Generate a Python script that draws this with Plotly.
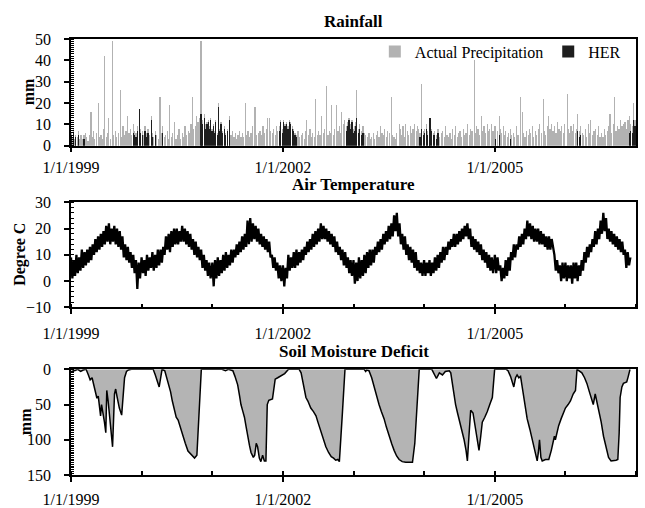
import pandas as pd
import plotly.graph_objects as go

FONT = "Liberation Serif, Times New Roman, Times, serif"
PRECIP_COLOR = "#b2b2b2"
HER_COLOR = "#1e1e1e"
FILL_COLOR = "#b4b4b4"

# ---------------- Rainfall (mm/day) ----------------
precip_dates = [
    "1999-01-03", "1999-01-08", "1999-01-14", "1999-01-19", "1999-01-26",
    "1999-02-02", "1999-02-09", "1999-02-15", "1999-02-22",
    "1999-03-01", "1999-03-09", "1999-03-17", "1999-03-24", "1999-03-30",
    "1999-04-06", "1999-04-14", "1999-04-21", "1999-04-28",
    "1999-05-04", "1999-05-11", "1999-05-22", "1999-05-29",
    "1999-06-05", "1999-06-12", "1999-06-18", "1999-06-25",
    "1999-07-02", "1999-07-09", "1999-07-15", "1999-07-24",
    "1999-08-03", "1999-08-10", "1999-08-18", "1999-08-26",
    "1999-09-04", "1999-09-13", "1999-09-19", "1999-09-27",
    "1999-10-05", "1999-10-12", "1999-10-20", "1999-10-28",
    "1999-11-04", "1999-11-11", "1999-11-19", "1999-11-26",
    "1999-12-03", "1999-12-10", "1999-12-20", "1999-12-27",
    "2000-01-04", "2000-01-12", "2000-01-19", "2000-01-27",
    "2000-02-03", "2000-02-11", "2000-02-20", "2000-02-26",
    "2000-03-04", "2000-03-12", "2000-03-20", "2000-03-28",
    "2000-04-05", "2000-04-12", "2000-04-20", "2000-04-27",
    "2000-05-04", "2000-05-12", "2000-05-19", "2000-05-26",
    "2000-06-03", "2000-06-10", "2000-06-20", "2000-06-27",
    "2000-07-04", "2000-07-13", "2000-07-21", "2000-07-29",
    "2000-08-05", "2000-08-13", "2000-08-22", "2000-08-30",
    "2000-09-06", "2000-09-13", "2000-09-20", "2000-09-27",
    "2000-10-04", "2000-10-12", "2000-10-19", "2000-10-27",
    "2000-11-03", "2000-11-06", "2000-11-12", "2000-11-20", "2000-11-27",
    "2000-12-04", "2000-12-10", "2000-12-17", "2000-12-23", "2000-12-30",
    "2001-01-05", "2001-01-12", "2001-01-19", "2001-01-27",
    "2001-02-03", "2001-02-09", "2001-02-15", "2001-02-24",
    "2001-03-04", "2001-03-12", "2001-03-20", "2001-03-30",
    "2001-04-07", "2001-04-15", "2001-04-23", "2001-04-29",
    "2001-05-06", "2001-05-14", "2001-05-22", "2001-05-29",
    "2001-06-05", "2001-06-13", "2001-06-20", "2001-06-27",
    "2001-07-04", "2001-07-12", "2001-07-20", "2001-07-28",
    "2001-08-05", "2001-08-10", "2001-08-18", "2001-08-27",
    "2001-09-04", "2001-09-12", "2001-09-20", "2001-09-28",
    "2001-10-06", "2001-10-15", "2001-10-25", "2001-10-30",
    "2001-11-06", "2001-11-14", "2001-11-22", "2001-11-29",
    "2001-12-06", "2001-12-14", "2001-12-20", "2001-12-28",
    "2002-01-05", "2002-01-12", "2002-01-19", "2002-01-27",
    "2002-02-03", "2002-02-10", "2002-02-18", "2002-02-25",
    "2002-03-04", "2002-03-12", "2002-03-20", "2002-03-28",
    "2002-04-06", "2002-04-14", "2002-04-22", "2002-04-29",
    "2002-05-05", "2002-05-13", "2002-05-21", "2002-05-28",
    "2002-06-04", "2002-06-12", "2002-06-20", "2002-06-27",
    "2002-07-04", "2002-07-12", "2002-07-20", "2002-07-28",
    "2002-08-05", "2002-08-15", "2002-08-22", "2002-08-29",
    "2002-09-03", "2002-09-10", "2002-09-18", "2002-09-26",
    "2002-10-05", "2002-10-13", "2002-10-21", "2002-10-28",
    "2002-11-01", "2002-11-09", "2002-11-17", "2002-11-24",
    "2002-12-02", "2002-12-09", "2002-12-17", "2002-12-24", "2002-12-30",
    "2003-01-05", "2003-01-12", "2003-01-18", "2003-01-25",
    "2003-02-03", "2003-02-11", "2003-02-19", "2003-02-26",
    "2003-03-05", "2003-03-14", "2003-03-22", "2003-03-29",
    "2003-04-05", "2003-04-13", "2003-04-21", "2003-04-28",
    "2003-05-05", "2003-05-13", "2003-05-21", "2003-05-28",
    "2003-06-04", "2003-06-12", "2003-06-20", "2003-06-27",
    "2003-07-05", "2003-07-15", "2003-07-22", "2003-07-29",
    "2003-08-05", "2003-08-13", "2003-08-25", "2003-08-30",
    "2003-09-06", "2003-09-14", "2003-09-22", "2003-09-29",
    "2003-10-06", "2003-10-14", "2003-10-22", "2003-10-30",
    "2003-11-05", "2003-11-13", "2003-11-21", "2003-11-28",
    "2003-12-04", "2003-12-11", "2003-12-20", "2003-12-27",
    "2004-01-04", "2004-01-12", "2004-01-20", "2004-01-28",
    "2004-02-01", "2004-02-09", "2004-02-17", "2004-02-25",
    "2004-03-05", "2004-03-13", "2004-03-21", "2004-03-29",
    "2004-04-06", "2004-04-14", "2004-04-22", "2004-04-29",
    "2004-05-06", "2004-05-14", "2004-05-22", "2004-05-29",
    "2004-06-05", "2004-06-13", "2004-06-21", "2004-06-28",
    "2004-07-05", "2004-07-13", "2004-07-21", "2004-07-29",
    "2004-08-05", "2004-08-13", "2004-08-21", "2004-08-29",
    "2004-09-05", "2004-09-16", "2004-09-23", "2004-09-29",
    "2004-10-06", "2004-10-14", "2004-10-25", "2004-10-30",
    "2004-11-06", "2004-11-14", "2004-11-22", "2004-11-29",
    "2004-12-06", "2004-12-14", "2004-12-22", "2004-12-29",
    "2005-01-05", "2005-01-13", "2005-01-25", "2005-01-30",
    "2005-02-06", "2005-02-14", "2005-02-22", "2005-02-27",
    "2005-03-06", "2005-03-14", "2005-03-22", "2005-03-29",
    "2005-04-06", "2005-04-14", "2005-04-22", "2005-04-29",
    "2005-05-04", "2005-05-12", "2005-05-25", "2005-05-30",
    "2005-06-06", "2005-06-14", "2005-06-22", "2005-06-29",
    "2005-07-06", "2005-07-14", "2005-07-22", "2005-07-29",
    "2005-08-06", "2005-08-14", "2005-08-22", "2005-08-29",
    "2005-09-08", "2005-09-15", "2005-09-22", "2005-09-29",
    "2005-10-05", "2005-10-13", "2005-10-21", "2005-10-29",
    "2005-11-05", "2005-11-13", "2005-11-21", "2005-11-29",
    "2005-12-05", "2005-12-13", "2005-12-21", "2005-12-29",
    "2006-01-10", "2006-01-17", "2006-01-24", "2006-01-30",
    "2006-02-05", "2006-02-13", "2006-02-21", "2006-02-27",
    "2006-03-05", "2006-03-13", "2006-03-21", "2006-03-29",
    "2006-04-06", "2006-04-14", "2006-04-22", "2006-04-29",
    "2006-05-04", "2006-05-10", "2006-05-22", "2006-05-29",
    "2006-06-06", "2006-06-14", "2006-06-22", "2006-06-29",
    "2006-07-06", "2006-07-14", "2006-07-22", "2006-07-29",
    "2006-08-06", "2006-08-14", "2006-08-20", "2006-08-28",
    "2006-09-05", "2006-09-10", "2006-09-20", "2006-09-28",
    "2006-10-05", "2006-10-13", "2006-10-21", "2006-10-29",
    "2006-11-05", "2006-11-13", "2006-11-21", "2006-11-29",
    "2006-12-05", "2006-12-13", "2006-12-20", "2006-12-27",
]
precip_mm = [
    6, 4, 8, 3, 5,
    4, 7, 3, 5,
    3, 5, 6, 4, 2,
    5, 16, 4, 7,
    3, 6, 20, 4,
    5, 3, 8, 42,
    4, 6, 13, 3,
    49, 5, 7, 4,
    6, 26, 4, 9,
    5, 7, 14, 6,
    8, 5, 10, 7,
    6, 9, 17, 8,
    7, 5, 9, 6,
    8, 5, 14, 6,
    4, 7, 5, 3,
    23, 6, 9, 4,
    5, 7, 3, 19,
    4, 6, 11, 3,
    5, 8, 3, 6,
    4, 9, 5, 7,
    6, 10, 23, 8,
    9, 14, 11, 13,
    49, 28, 12, 15, 10,
    11, 12, 9, 13, 8,
    10, 7, 12, 6,
    20, 8, 11, 7,
    9, 6, 8, 14,
    5, 7, 4, 6,
    3, 5, 7, 4,
    6, 4, 20, 5,
    7, 4, 6, 9,
    18, 18, 5, 6,
    7, 5, 9, 6,
    8, 13, 13, 7,
    6, 8, 5, 9,
    7, 9, 12, 8,
    12, 10, 11, 9,
    12, 11, 9, 8,
    6, 5, 7, 4,
    5, 6, 3, 7,
    12, 5, 8, 4,
    6, 4, 22, 5,
    7, 5, 14, 6,
    8, 28, 5, 7,
    6, 19, 5, 8,
    19, 7, 9, 6,
    16, 10, 12, 9,
    11, 13, 10, 12, 8,
    9, 11, 26, 8,
    10, 7, 9, 6,
    5, 4, 6, 3,
    4, 6, 3, 5,
    7, 4, 9, 6,
    5, 8, 4, 7,
    6, 23, 5, 4,
    3, 6, 10, 8,
    5, 9, 4, 10,
    7, 5, 9, 6,
    8, 10, 7, 9,
    8, 6, 29, 7,
    8, 10, 7, 9,
    13, 8, 6, 7,
    5, 8, 4, 6,
    7, 4, 9, 5,
    4, 6, 3, 8,
    5, 9, 4, 6,
    7, 4, 8, 5,
    6, 10, 5, 8,
    7, 40, 6, 9,
    8, 5, 14, 7,
    9, 6, 10, 7,
    8, 10, 7, 9,
    9, 7, 14, 8,
    6, 9, 5, 7,
    4, 6, 8, 5,
    6, 4, 9, 5,
    5, 23, 16, 6,
    4, 7, 5, 8,
    6, 9, 4, 7,
    5, 8, 10, 6,
    22, 7, 5, 9,
    14, 8, 10, 7,
    9, 6, 11, 8,
    7, 9, 6, 10,
    24, 8, 6, 9,
    7, 10, 6, 8,
    15, 7, 9, 6,
    5, 8, 4, 10,
    6, 12, 5, 7,
    8, 5, 9, 4,
    6, 4, 8, 5,
    7, 9, 15, 6,
    10, 23, 7, 9,
    8, 12, 9, 10,
    11, 8, 12, 14,
    10, 9, 20, 12,
]

# Hydrologically effective rainfall (mm/day)
her_dates = [
    "1999-01-03", "1999-01-14", "1999-01-26", "1999-02-09", "1999-03-09",
    "1999-11-19", "1999-11-26", "1999-12-03", "1999-12-10", "1999-12-20", "1999-12-27",
    "2000-01-04", "2000-01-19", "2000-01-27", "2000-02-03", "2000-02-20", "2000-02-26",
    "2000-03-12", "2000-04-20",
    "2000-11-03", "2000-11-06", "2000-11-12", "2000-11-20", "2000-11-27",
    "2000-12-04", "2000-12-10", "2000-12-17", "2000-12-23", "2000-12-30",
    "2001-01-05", "2001-01-12", "2001-01-19", "2001-01-27",
    "2001-02-03", "2001-02-09", "2001-02-15", "2001-02-24",
    "2001-03-04", "2001-03-12", "2001-03-20", "2001-03-30",
    "2001-12-14", "2001-12-20", "2001-12-28",
    "2002-01-05", "2002-01-12", "2002-01-19", "2002-01-27",
    "2002-02-03", "2002-02-10", "2002-02-18", "2002-02-25",
    "2002-03-04", "2002-03-12",
    "2002-11-24", "2002-12-02", "2002-12-09", "2002-12-17", "2002-12-24", "2002-12-30",
    "2003-01-05", "2003-01-12", "2003-01-18", "2003-01-25",
    "2003-02-03", "2003-02-11", "2003-02-19",
    "2003-12-11", "2003-12-20", "2003-12-27",
    "2004-01-04", "2004-01-12", "2004-01-20", "2004-01-28",
    "2004-02-01", "2004-02-09", "2004-02-17", "2004-02-25",
    "2004-03-05", "2004-03-13",
    "2005-01-05", "2005-01-25", "2005-03-22",
    "2006-03-05", "2006-03-13", "2006-03-21",
    "2006-11-29", "2006-12-05", "2006-12-13", "2006-12-20", "2006-12-27",
]
her_mm = [
    5, 6, 4, 5, 3,
    6, 5, 4, 7, 17, 6,
    5, 7, 4, 6, 12, 4,
    5, 6,
    15, 12, 10, 13, 8,
    10, 11, 8, 12, 7,
    9, 6, 11, 5,
    18, 7, 10, 6,
    8, 5, 7, 12,
    7, 11, 6,
    11, 9, 10, 8,
    11, 10, 8, 7,
    5, 4,
    7, 9, 12, 8, 11, 6,
    7, 9, 13, 6,
    8, 5, 6,
    4, 8, 5,
    6, 8, 5, 7,
    13, 7, 5, 5,
    3, 6,
    3, 5, 3,
    7, 4, 5,
    6, 7, 6, 12, 9,
]

# ---------------- Air temperature (degree C, weekly from 1 Jan) ----------------
temp_years = [1999, 2000, 2001, 2002, 2003, 2004, 2005, 2006]
temp_1999 = [9, 1, 8, 2, 10, 3, 9, 4, 12, 5, 11, 6, 12, 7, 13, 8, 14, 10, 16, 11, 17, 12,
             18, 13, 19, 14, 21, 15, 22, 14, 20, 15, 21, 14, 20, 13, 19, 12, 17, 9, 14, 8,
             13, 7, 11, 5, 10, 3, 8, -3, 7, 1]
temp_2000 = [9, 3, 8, 2, 10, 4, 9, 5, 11, 4, 10, 5, 12, 6, 12, 7, 13, 10, 17, 12, 18, 11,
             19, 13, 20, 14, 20, 14, 19, 15, 21, 15, 20, 14, 19, 13, 18, 12, 16, 10, 15, 9,
             13, 8, 12, 5, 10, 4, 8, 2, 7, 1]
temp_2001 = [7, -2, 8, 1, 9, 2, 8, 3, 10, 4, 11, 5, 10, 6, 12, 7, 12, 9, 14, 10, 15, 11,
             17, 12, 18, 13, 23, 14, 24, 15, 22, 16, 21, 15, 20, 14, 18, 13, 17, 12, 16, 11,
             15, 9, 10, 5, 9, 4, 7, 1, 6, 0]
temp_2002 = [6, -2, 5, 1, 10, 4, 9, 5, 11, 5, 12, 6, 11, 7, 12, 8, 13, 10, 15, 11, 16, 12,
             18, 13, 19, 14, 20, 15, 22, 16, 21, 16, 20, 15, 19, 14, 18, 13, 17, 11, 15, 10,
             13, 8, 12, 6, 11, 5, 9, 3, 8, 2]
temp_2003 = [8, -1, 7, 0, 9, 1, 8, 2, 10, 3, 11, 5, 12, 6, 12, 7, 13, 10, 15, 11, 16, 12,
             18, 14, 19, 15, 21, 16, 22, 17, 25, 19, 26, 17, 22, 14, 18, 12, 17, 10, 14, 8,
             13, 7, 12, 5, 11, 4, 8, 3, 7, 2]
temp_2004 = [8, 2, 7, 3, 8, 2, 7, 3, 9, 4, 10, 5, 11, 7, 13, 8, 13, 10, 15, 12, 16, 13,
             18, 13, 18, 14, 19, 15, 20, 16, 21, 17, 22, 16, 20, 13, 17, 12, 16, 11, 15, 10,
             14, 8, 12, 7, 11, 5, 10, 4, 9, 3]
temp_2005 = [10, 3, 9, 4, 6, 0, 5, 1, 8, 2, 9, 4, 11, 8, 14, 9, 14, 12, 17, 13, 18, 14,
             20, 16, 23, 17, 22, 16, 21, 15, 20, 15, 20, 14, 19, 14, 18, 13, 17, 12, 17, 12,
             16, 13, 10, 4, 8, 3, 6, 0, 7, 1]
temp_2006 = [7, 0, 6, 1, 6, -1, 7, 1, 7, 0, 6, 2, 8, 4, 11, 7, 13, 9, 14, 11, 16, 13,
             19, 14, 20, 16, 23, 18, 26, 19, 24, 16, 20, 15, 19, 14, 18, 13, 17, 12, 16, 11,
             15, 10, 12, 5, 11, 6, 9]
temp_by_year = [temp_1999, temp_2000, temp_2001, temp_2002, temp_2003, temp_2004, temp_2005, temp_2006]

# ---------------- Soil moisture deficit (mm) ----------------
smd_dates = [
    "1999-01-01", "1999-01-20", "1999-02-05", "1999-02-20", "1999-03-05", "1999-03-20",
    "1999-04-01", "1999-04-10", "1999-04-20", "1999-04-28", "1999-05-08", "1999-05-15",
    "1999-05-22", "1999-06-03", "1999-06-08", "1999-06-15", "1999-06-23", "1999-06-30",
    "1999-07-05", "1999-07-12", "1999-07-22", "1999-08-04", "1999-08-14", "1999-08-20",
    "1999-08-28", "1999-09-08", "1999-09-20", "1999-09-28", "1999-10-05", "1999-10-15",
    "1999-10-25", "1999-11-10",
    "2000-03-01", "2000-03-12", "2000-03-25", "2000-04-01", "2000-04-10", "2000-04-16",
    "2000-04-30", "2000-05-10", "2000-05-20", "2000-05-30", "2000-06-08", "2000-06-21",
    "2000-06-28", "2000-07-08", "2000-07-18", "2000-07-25", "2000-08-05", "2000-08-14",
    "2000-08-28", "2000-09-10", "2000-09-20", "2000-10-01", "2000-10-13", "2000-10-25",
    "2000-11-05",
    "2001-02-20", "2001-03-10", "2001-03-25", "2001-04-17", "2001-04-28", "2001-05-12",
    "2001-05-22", "2001-05-29", "2001-06-08", "2001-06-16", "2001-06-25", "2001-07-02",
    "2001-07-12", "2001-07-20", "2001-08-01", "2001-08-08", "2001-08-16", "2001-08-23",
    "2001-09-01", "2001-09-09", "2001-09-18", "2001-09-27", "2001-10-05", "2001-10-12",
    "2001-10-20", "2001-11-08", "2001-11-15", "2001-11-22", "2001-12-05", "2001-12-21",
    "2002-01-10", "2002-01-30",
    "2002-03-26", "2002-04-05", "2002-04-12", "2002-04-22", "2002-04-30", "2002-05-10",
    "2002-05-25", "2002-06-08", "2002-06-21", "2002-07-01", "2002-07-16", "2002-07-28",
    "2002-08-11", "2002-08-25", "2002-09-08", "2002-09-20", "2002-10-01", "2002-10-12",
    "2002-10-20", "2002-11-05", "2002-11-18",
    "2003-02-25", "2003-03-05", "2003-03-10", "2003-03-22", "2003-04-05", "2003-04-17",
    "2003-04-30", "2003-05-13", "2003-05-25", "2003-06-08", "2003-06-20", "2003-07-04",
    "2003-07-18", "2003-07-30", "2003-08-12", "2003-08-25", "2003-09-10", "2003-09-28",
    "2003-10-15", "2003-11-02", "2003-11-14", "2003-11-25", "2003-12-07",
    "2004-02-10", "2004-02-25", "2004-03-05", "2004-03-20", "2004-04-05", "2004-04-20",
    "2004-05-10", "2004-05-18", "2004-06-04", "2004-06-12", "2004-06-22", "2004-06-30",
    "2004-07-12", "2004-07-26", "2004-08-05", "2004-08-12", "2004-08-20", "2004-08-29",
    "2004-09-10", "2004-09-25", "2004-10-11", "2004-10-20", "2004-10-28", "2004-11-10",
    "2004-11-23", "2004-12-08", "2004-12-19", "2004-12-31",
    "2005-03-01", "2005-03-10", "2005-03-23", "2005-04-09", "2005-04-18", "2005-04-26",
    "2005-05-05", "2005-05-14", "2005-05-31", "2005-06-17", "2005-07-01", "2005-07-13",
    "2005-07-28", "2005-08-08", "2005-08-14", "2005-08-20", "2005-08-27", "2005-09-03",
    "2005-09-20", "2005-10-07", "2005-10-20", "2005-11-05", "2005-11-10", "2005-11-27",
    "2005-12-10", "2005-12-20", "2006-01-01", "2006-01-15", "2006-01-27", "2006-02-10",
    "2006-02-22", "2006-03-02",
    "2006-03-27", "2006-04-10", "2006-04-22", "2006-05-05", "2006-05-18", "2006-05-25",
    "2006-06-04", "2006-06-12", "2006-06-21", "2006-07-05", "2006-07-17", "2006-07-30",
    "2006-08-12", "2006-08-25", "2006-09-07", "2006-09-20", "2006-09-29", "2006-10-06",
    "2006-10-11", "2006-10-20", "2006-10-28", "2006-11-14", "2006-11-22", "2006-12-01",
]
smd_mm = [
    0, 2, 0, 3, 1, 0,
    8, 15, 12, 20, 30, 41,
    38, 66, 50, 60, 75, 90,
    30, 45, 70, 110, 35, 28,
    40, 55, 65, 40, 12, 3,
    1, 0,
    0, 8, 20, 25, 10, 0,
    2, 12, 20, 32, 45, 60,
    68, 72, 82, 88, 98, 105,
    116, 120, 124, 126, 122, 60,
    0,
    0, 2, 0, 2, 10, 22,
    38, 50, 60, 68, 82, 95,
    108, 118, 125, 122, 105, 110,
    126, 131, 122, 130, 130, 50,
    44, 42, 25, 14, 12, 9,
    6, 0,
    0, 5, 15, 30, 40, 45,
    55, 60, 66, 75, 88, 100,
    110, 118, 124, 126, 129, 128,
    131, 60, 0,
    0, 3, 1, 2, 12, 25,
    38, 50, 60, 70, 82, 95,
    106, 115, 123, 128, 131, 132,
    132, 132, 105, 50, 0,
    0, 8, 13, 5, 8, 3,
    2, 5, 40, 50, 62, 70,
    85, 100, 115, 130, 95, 58,
    62, 90, 115, 95, 75, 68,
    60, 48, 40, 0,
    0, 2, 10, 25, 12, 8,
    12, 10, 40, 70, 85, 100,
    118, 130, 118, 100, 125, 130,
    128, 128, 115, 95, 100, 80,
    70, 62, 55, 50, 45, 35,
    30, 0,
    5, 12, 20, 32, 45, 50,
    35, 45, 55, 75, 95, 112,
    125, 130, 130, 129, 128, 90,
    40, 25, 20, 18, 10, 0,
]

x_start, x_end = "1999-01-01", "2007-01-01"

# weekly temperature dates
temp_dates, temp_vals = [], []
for yr, vals in zip(temp_years, temp_by_year):
    start = pd.Timestamp(f"{yr}-01-01")
    for i, v in enumerate(vals):
        temp_dates.append(start + pd.Timedelta(days=7 * i))
        temp_vals.append(v)

DAY_MS = 86400000

fig = go.Figure()
fig.add_trace(go.Bar(x=precip_dates, y=precip_mm, name="Actual Precipitation",
                     marker=dict(color=PRECIP_COLOR, line=dict(width=0)),
                     width=DAY_MS, xaxis="x", yaxis="y"))
fig.add_trace(go.Bar(x=her_dates, y=her_mm, name="HER",
                     marker=dict(color=HER_COLOR, line=dict(width=0)),
                     width=DAY_MS, xaxis="x", yaxis="y"))
fig.add_trace(go.Scatter(x=temp_dates, y=temp_vals, mode="lines",
                         line=dict(color="black", width=2.3),
                         xaxis="x2", yaxis="y2", showlegend=False))
fig.add_trace(go.Scatter(x=smd_dates, y=smd_mm, mode="lines", fill="tozeroy",
                         fillcolor=FILL_COLOR, line=dict(color="black", width=1.5),
                         xaxis="x3", yaxis="y3", showlegend=False))

tickfont = dict(family=FONT, size=16, color="black")


def xaxis(anchor, standoff, minor):
    d = dict(type="date", range=[x_start, x_end], anchor=anchor, domain=[0, 1],
             tick0="1999-01-01", dtick="M36", tickformat="%-m/%-d/%Y",
             showline=True, mirror=True, linecolor="black", linewidth=1.5,
             ticks="outside", ticklen=5, tickwidth=1.5, tickcolor="black",
             showgrid=False, zeroline=False, tickfont=tickfont, automargin=False,
             ticklabelstandoff=standoff)
    if minor:
        d["minor"] = dict(dtick="M12", tick0="1999-01-01", ticks="inside",
                          ticklen=4, tickwidth=1.5, tickcolor="black", showgrid=False)
    return d


def yaxis(anchor, domain, rng, dtick, mdtick, reverse=False):
    return dict(anchor=anchor, domain=domain,
                range=rng[::-1] if reverse else rng,
                tick0=0, dtick=dtick,
                showline=True, mirror=True, linecolor="black", linewidth=1.5,
                ticks="outside", ticklen=5, tickwidth=1.5, tickcolor="black",
                showgrid=False, zeroline=False, tickfont=tickfont, automargin=False,
                ticklabelstandoff=10,
                minor=dict(dtick=mdtick, tick0=0, ticks="inside", ticklen=3,
                           tickwidth=1, tickcolor="black", showgrid=False))


fig.update_layout(
    template="none",
    width=645, height=508,
    margin=dict(l=71, r=9, t=39, b=33, autoexpand=False),
    paper_bgcolor="white", plot_bgcolor="white",
    barmode="overlay", bargap=0,
    font=dict(family=FONT, size=16, color="black"),
    xaxis=xaxis("y", 1, False),
    yaxis=yaxis("x", [0.7553, 1.0], [0, 50], 10, 1),
    xaxis2=xaxis("y2", 6, True),
    yaxis2=yaxis("x2", [0.3846, 0.6255], [-10, 30], 10, 2),
    xaxis3=xaxis("y3", 4, True),
    yaxis3=yaxis("x3", [0.0, 0.2424], [0, 150], 50, 2.5, reverse=True),
    legend=dict(orientation="h", x=0.982, xanchor="right", y=1.01, yanchor="top",
                bgcolor="rgba(0,0,0,0)", font=dict(family=FONT, size=16, color="black"),
                itemwidth=30, traceorder="normal"),
    showlegend=True,
)

titles = [("Rainfall", 1.0), ("Air Temperature", 0.6255), ("Soil Moisture Deficit", 0.2424)]
for text, ytop in titles:
    fig.add_annotation(text=f"<b>{text}</b>", xref="paper", yref="paper", x=0.5, y=ytop,
                       xanchor="center", yanchor="middle", yshift=18, showarrow=False,
                       font=dict(family=FONT, size=17, color="black"))

ytitles = [("mm", 0.8776, -43), ("Degree C", 0.5050, -51), ("mm", 0.1212, -46)]
for text, yc, shift in ytitles:
    fig.add_annotation(text=f"<b>{text}</b>", xref="paper", yref="paper", x=0, y=yc,
                       xanchor="center", yanchor="middle", xshift=shift, textangle=-90,
                       showarrow=False, font=dict(family=FONT, size=16, color="black"))

# the page's default body margin would offset the 645x508 figure; remove it
fig.write_html("out.html", config={"displayModeBar": False},
               post_script="document.body.style.margin='0';document.body.style.overflow='hidden';")
